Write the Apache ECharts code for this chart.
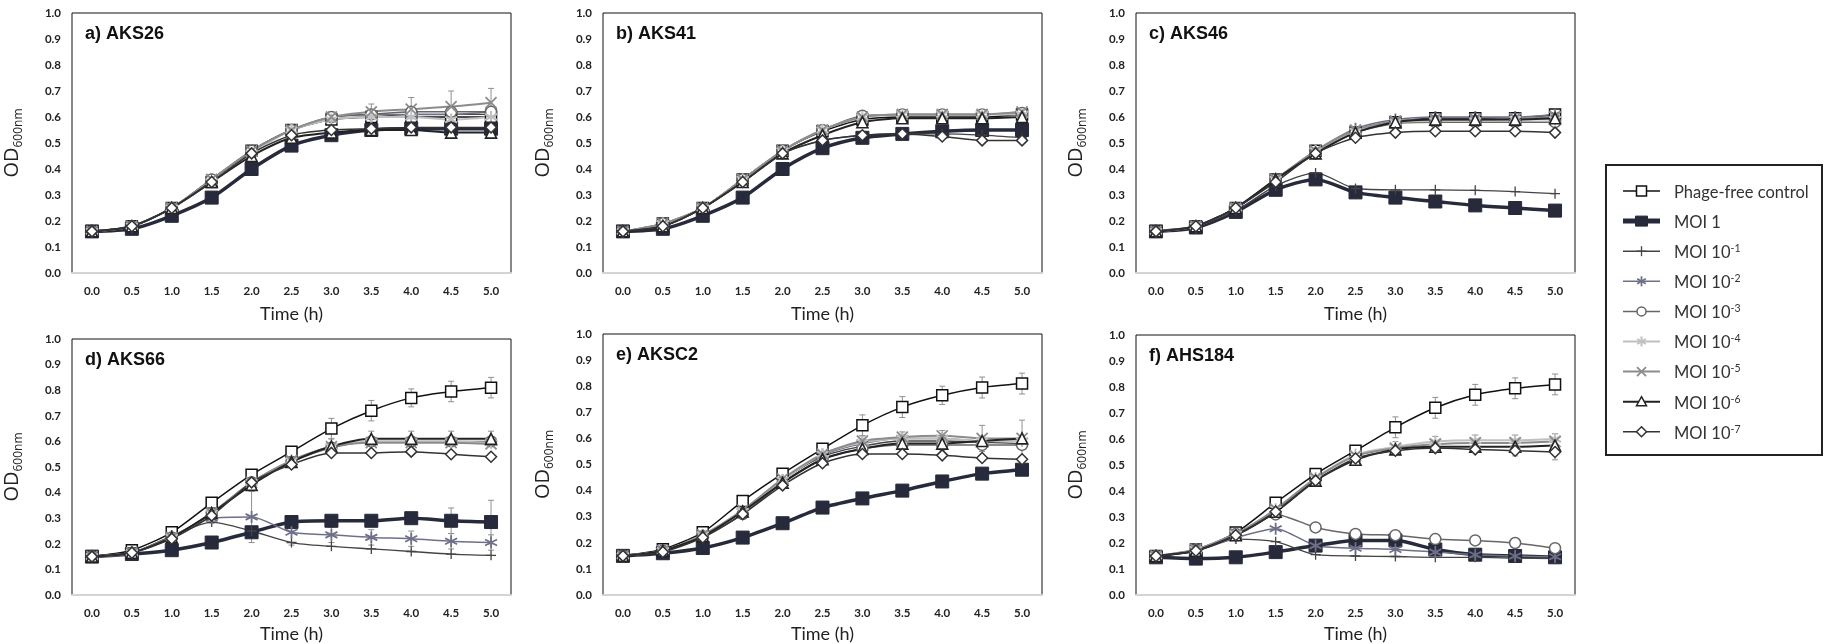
<!DOCTYPE html>
<html><head><meta charset="utf-8">
<script src="https://cdn.jsdelivr.net/npm/echarts@6/dist/echarts.min.js"></script>
<style>html,body{margin:0;padding:0;background:#fff}#c{width:1830px;height:644px}</style>
</head><body><div id="c"></div>
<script>
// ---------- data ----------
const timeLabels = ['0.0','0.5','1.0','1.5','2.0','2.5','3.0','3.5','4.0','4.5','5.0'];
const seriesNames = ['Phage-free control','MOI 1','MOI 10-1','MOI 10-2','MOI 10-3','MOI 10-4','MOI 10-5','MOI 10-6','MOI 10-7'];
const panelTitles = ['a) AKS26','b) AKS41','c) AKS46','d) AKS66','e) AKSC2','f) AHS184'];
const yMin = 0, yMax = 1.0, yStep = 0.1;

// rows follow seriesNames order
const AKS26 = [
  [.16,.18,.25,.35,.47,.55,.59,.60,.60,.60,.60],
  [.16,.17,.22,.29,.40,.49,.53,.55,.555,.555,.555],
  [.16,.18,.25,.36,.47,.55,.59,.60,.61,.61,.61],
  [.16,.18,.25,.36,.47,.55,.60,.61,.61,.61,.62],
  [.16,.18,.25,.36,.47,.55,.60,.61,.62,.62,.62],
  [.16,.18,.25,.35,.46,.55,.59,.60,.60,.59,.60],
  [.16,.18,.25,.36,.47,.55,.60,.62,.63,.64,.655],
  [.16,.18,.25,.35,.45,.52,.54,.55,.55,.54,.54],
  [.16,.18,.25,.35,.46,.53,.55,.555,.56,.56,.56]
];
const AKS41 = [
  [.16,.19,.25,.36,.47,.545,.59,.60,.60,.60,.61],
  [.16,.17,.22,.29,.40,.48,.52,.535,.545,.55,.55],
  [.16,.18,.25,.35,.46,.51,.53,.535,.535,.53,.52],
  [.16,.19,.25,.36,.47,.55,.60,.61,.61,.61,.615],
  [.16,.19,.25,.36,.47,.55,.605,.61,.61,.61,.615],
  [.16,.19,.25,.36,.47,.55,.60,.61,.61,.61,.61],
  [.16,.19,.25,.36,.47,.55,.60,.61,.61,.61,.62],
  [.16,.18,.25,.35,.46,.53,.58,.595,.595,.595,.60],
  [.16,.18,.25,.35,.46,.51,.53,.535,.525,.51,.51]
];
const AKS46 = [
  [.16,.18,.25,.36,.47,.54,.58,.595,.595,.595,.61],
  [.16,.175,.235,.32,.36,.31,.29,.275,.26,.25,.24],
  [.16,.18,.24,.335,.385,.325,.32,.32,.318,.313,.305],
  [.16,.18,.25,.36,.47,.555,.59,.60,.60,.60,.61],
  [.16,.18,.25,.36,.46,.54,.575,.58,.58,.58,.58],
  [.16,.18,.25,.36,.47,.545,.58,.585,.585,.59,.59],
  [.16,.18,.25,.36,.47,.55,.585,.59,.59,.595,.60],
  [.16,.18,.25,.36,.46,.54,.58,.59,.59,.59,.595],
  [.16,.18,.25,.35,.46,.52,.54,.545,.545,.545,.54]
];
const AKS66 = [
  [.15,.175,.245,.36,.47,.56,.65,.72,.77,.795,.81],
  [.15,.16,.175,.205,.245,.285,.29,.29,.30,.29,.285],
  [.15,.165,.23,.285,.25,.205,.19,.18,.17,.16,.155],
  [.15,.165,.23,.30,.305,.245,.235,.225,.22,.21,.205],
  [.15,.165,.225,.32,.44,.52,.575,.60,.60,.60,.60],
  [.15,.165,.225,.32,.44,.525,.58,.60,.60,.60,.595],
  [.15,.165,.225,.32,.44,.525,.58,.595,.595,.595,.59],
  [.15,.165,.225,.32,.43,.52,.58,.61,.61,.61,.61],
  [.15,.165,.22,.31,.44,.51,.555,.555,.56,.55,.54]
];
const AKSC2 = [
  [.15,.175,.24,.36,.465,.56,.65,.72,.765,.795,.81],
  [.15,.16,.18,.22,.275,.335,.37,.40,.435,.465,.48],
  [.15,.17,.23,.32,.44,.53,.57,.59,.59,.585,.58],
  [.15,.17,.23,.32,.44,.535,.58,.60,.60,.59,.59],
  [.15,.17,.225,.31,.43,.52,.56,.575,.575,.575,.575],
  [.15,.17,.23,.32,.44,.54,.585,.60,.60,.59,.59],
  [.15,.17,.23,.325,.445,.54,.59,.605,.61,.60,.60],
  [.15,.17,.225,.32,.43,.52,.56,.58,.58,.59,.60],
  [.15,.165,.22,.31,.42,.505,.54,.54,.535,.525,.52]
];
const AHS184 = [
  [.15,.175,.24,.355,.465,.555,.645,.72,.77,.795,.81],
  [.145,.14,.145,.165,.19,.21,.21,.175,.155,.15,.145],
  [.15,.17,.215,.205,.155,.15,.148,.145,.145,.142,.14],
  [.15,.17,.22,.255,.19,.18,.175,.165,.155,.15,.147],
  [.15,.17,.235,.31,.26,.235,.23,.215,.21,.20,.18],
  [.15,.175,.235,.33,.45,.54,.57,.59,.595,.595,.60],
  [.15,.175,.235,.33,.45,.535,.565,.58,.585,.585,.59],
  [.15,.17,.23,.32,.44,.52,.56,.57,.57,.57,.575],
  [.15,.17,.23,.32,.44,.525,.555,.565,.56,.555,.55]
];
// standard-deviation bars (series index -> values per time point)
const AKS26_err = {6: [0,0,0,0,0,.01,.02,.03,.045,.06,.055], 5: [0,0,0,0,0,.01,.01,.02,.02,.03,.03]};
const AKS41_err = {};
const AKS46_err = {0: [0,0,0,0,0,.01,.01,.015,.015,.015,.015]};
const AKS66_err = {0: [0,0,.01,.01,.015,.02,.04,.04,.035,.04,.04], 1: [0,0,0,0,0,.01,.01,.01,.02,.05,.085], 3: [0,0,0,.02,.1,.05,.03,.03,.03,.03,.03], 7: [0,0,0,.01,.01,.02,.03,.03,.03,.03,.03]};
const AKSC2_err = {0: [0,0,.01,.01,.015,.02,.04,.04,.035,.04,.04], 6: [0,0,0,0,0,.01,.02,.02,.02,.05,.07]};
const AHS184_err = {0: [0,0,.01,.01,.015,.02,.04,.04,.04,.04,.04], 8: [0,0,0,0,0,.01,.01,.01,.01,.02,.03], 5: [0,0,0,0,0,.01,.02,.02,.02,.02,.02]};

const panelData = [AKS26, AKS41, AKS46, AKS66, AKSC2, AHS184];
const panelErr = [AKS26_err, AKS41_err, AKS46_err, AKS66_err, AKSC2_err, AHS184_err];

// ---------- styles ----------
const PLUS = 'path://M10,0 L10,20 M0,10 L20,10';
const AST = 'path://M10,0 L10,20 M1.34,5 L18.66,15 M1.34,15 L18.66,5';
const XMARK = 'path://M0,0 L20,20 M0,20 L20,0';
const styles = [
  {symbol:'rect', size:11, fill:'#fff', stroke:'#111', bw:1.5, line:'#111', lw:1.5},
  {symbol:'rect', size:13, fill:'#262a3b', stroke:'#262a3b', bw:1, line:'#262a3b', lw:3.5},
  {symbol:PLUS, size:10, fill:'none', stroke:'#444', bw:1.3, line:'#444', lw:1.3},
  {symbol:AST, size:12, fill:'none', stroke:'#6e7088', bw:1.8, line:'#6e7088', lw:1.5},
  {symbol:'circle', size:11, fill:'#fff', stroke:'#666', bw:1.5, line:'#666', lw:1.5},
  {symbol:AST, size:12, fill:'none', stroke:'#c0c0c0', bw:2, line:'#c0c0c0', lw:2},
  {symbol:XMARK, size:11, fill:'none', stroke:'#8c8c8c', bw:1.8, line:'#8c8c8c', lw:2},
  {symbol:'triangle', size:11, fill:'#fff', stroke:'#222', bw:1.6, line:'#222', lw:2},
  {symbol:'diamond', size:11, fill:'#fff', stroke:'#333', bw:1.5, line:'#333', lw:1.5}
];

const gridLefts = [72, 603, 1136, 72, 603, 1136];
const gridTops = [13, 13, 13, 339, 334, 335];
const gridHeights = [260, 260, 260, 260, 262, 261];
const gridWidth = 439;

const grids = [], xAxes = [], yAxes = [], series = [], titles = [];
for (let p = 0; p < 6; p++) {
  grids.push({left: gridLefts[p], top: gridTops[p], width: gridWidth, height: gridHeights[p],
    show: true, borderColor: '#111', borderWidth: 1, backgroundColor: '#fff'});
  xAxes.push({type: 'category', gridIndex: p, data: timeLabels, boundaryGap: true,
    axisLine: {show: true, lineStyle: {color: '#d4d4d4', width: 2}}, axisTick: {show: false},
    axisLabel: {color: '#222', fontFamily: 'Lato', fontWeight: 'bold', fontSize: 11.5, margin: 12},
    name: 'Time (h)', nameLocation: 'middle', nameGap: p < 3 ? 32 : 30,
    nameTextStyle: {fontFamily: 'Lato', fontSize: 18, color: '#222'}});
  yAxes.push({type: 'value', gridIndex: p, min: yMin, max: yMax, interval: yStep,
    splitLine: {show: false}, axisLine: {show: false}, axisTick: {show: false},
    axisLabel: {color: '#222', fontFamily: 'Lato', fontWeight: 'bold', fontSize: 11.5, margin: 11,
      formatter: v => v.toFixed(1)},
    name: '{a|OD}{b|600nm}', nameLocation: 'middle', nameGap: 50, nameRotate: 90,
    nameTextStyle: {rich: {
      a: {fontFamily: 'Open Sans', fontSize: 20, color: '#222', verticalAlign: 'bottom', lineHeight: 26},
      b: {fontFamily: 'Open Sans', fontSize: 12, color: '#222', verticalAlign: 'bottom', lineHeight: 26, padding: [0,0,-3,0]}
    }}});
  titles.push({text: panelTitles[p], left: gridLefts[p] + 13, top: gridTops[p] + 12, padding: 0,
    textStyle: {fontFamily: 'Liberation Sans', fontWeight: 'bold', fontSize: 18, color: '#111'}});
  const data = panelData[p];
  const errs = panelErr[p];
  Object.keys(errs).forEach(k => {
    const si = +k;
    series.push({type: 'custom', xAxisIndex: p, yAxisIndex: p, silent: true, z: 1,
      data: data[si].map((v, i) => [i, v, errs[k][i]]).filter(d => d[2] > 0),
      renderItem: (params, api) => {
        const x = api.value(0), v = api.value(1), e = api.value(2);
        const t = api.coord([x, v + e]), b = api.coord([x, v - e]);
        const st = {stroke: '#909090', lineWidth: 1};
        return {type: 'group', children: [
          {type: 'line', shape: {x1: t[0], y1: t[1], x2: b[0], y2: b[1]}, style: st},
          {type: 'line', shape: {x1: t[0] - 3, y1: t[1], x2: t[0] + 3, y2: t[1]}, style: st},
          {type: 'line', shape: {x1: b[0] - 3, y1: b[1], x2: b[0] + 3, y2: b[1]}, style: st}
        ]};
      }});
  });
  for (let s = 0; s < 9; s++) {
    const st = styles[s];
    series.push({type: 'line', name: seriesNames[s], xAxisIndex: p, yAxisIndex: p,
      data: data[s], smooth: 0.25, symbol: st.symbol, symbolSize: st.size, showAllSymbol: true,
      z: 2,
      itemStyle: {color: st.fill, borderColor: st.stroke, borderWidth: st.bw},
      lineStyle: {color: st.line, width: st.lw},
      emphasis: {disabled: true}});
  }
}

// ---------- legend (drawn as graphic so it sits exactly in its box) ----------
function ln(x1, y1, x2, y2, stroke, w) {
  return {type: 'line', shape: {x1: x1, y1: y1, x2: x2, y2: y2}, style: {stroke: stroke, lineWidth: w}};
}
function legendSymbol(i, cx, cy) {
  const st = styles[i];
  const h = 5;
  if (i === 0) return [{type: 'rect', shape: {x: cx - h, y: cy - h, width: 2 * h, height: 2 * h}, style: {fill: '#fff', stroke: st.stroke, lineWidth: 1.5}}];
  if (i === 1) return [{type: 'rect', shape: {x: cx - 6, y: cy - 5, width: 12, height: 10}, style: {fill: st.fill, stroke: st.stroke, lineWidth: 1}}];
  if (i === 2) return [ln(cx, cy - h, cx, cy + h, st.stroke, st.bw), ln(cx - h, cy, cx + h, cy, st.stroke, st.bw)];
  if (i === 3 || i === 5) return [ln(cx, cy - h, cx, cy + h, st.stroke, st.bw),
    ln(cx - 4.3, cy - 2.5, cx + 4.3, cy + 2.5, st.stroke, st.bw), ln(cx - 4.3, cy + 2.5, cx + 4.3, cy - 2.5, st.stroke, st.bw)];
  if (i === 4) return [{type: 'circle', shape: {cx: cx, cy: cy, r: 4.5}, style: {fill: '#fff', stroke: st.stroke, lineWidth: 1.5}}];
  if (i === 6) return [ln(cx - 4.5, cy - 4.5, cx + 4.5, cy + 4.5, st.stroke, st.bw), ln(cx - 4.5, cy + 4.5, cx + 4.5, cy - 4.5, st.stroke, st.bw)];
  if (i === 7) return [{type: 'polygon', shape: {points: [[cx, cy - h], [cx + h, cy + 4], [cx - h, cy + 4]]}, style: {fill: '#fff', stroke: st.stroke, lineWidth: 1.5}}];
  return [{type: 'polygon', shape: {points: [[cx, cy - h], [cx + h, cy], [cx, cy + h], [cx - h, cy]]}, style: {fill: '#fff', stroke: st.stroke, lineWidth: 1.5}}];
}
const legendGraphics = [{type: 'rect', shape: {x: 1606, y: 165, width: 216, height: 290},
  style: {fill: '#fff', stroke: '#222', lineWidth: 2}}];
seriesNames.forEach((name, i) => {
  const st = styles[i];
  const cy = 191 + i * 30.1;
  legendGraphics.push(ln(1623, cy, 1660, cy, st.line, i === 1 ? 5 : Math.max(st.lw, 1.5)));
  legendSymbol(i, 1641.5, cy).forEach(g => legendGraphics.push(g));
  const m = name.match(/^MOI 10(-\d)$/);
  legendGraphics.push({type: 'text', x: 1674, y: cy, style: {
    text: m ? '{t|MOI 10}{s|' + m[1] + '}' : '{t|' + name + '}',
    verticalAlign: 'middle', align: 'left', fill: '#333',
    rich: {
      t: {fontFamily: 'Lato', fontSize: 16.5, fill: '#333', verticalAlign: 'bottom', lineHeight: 20},
      s: {fontFamily: 'Lato', fontSize: 10.5, fill: '#333', verticalAlign: 'top', lineHeight: 20, padding: [2, 0, 0, 0]}
    }}});
});

const chart = echarts.init(document.getElementById('c'), null, {renderer: 'canvas'});
chart.setOption({
  backgroundColor: '#fff',
  animation: false,
  title: titles,
  grid: grids,
  xAxis: xAxes,
  yAxis: yAxes,
  graphic: legendGraphics,
  series: series
});
</script></body></html>
